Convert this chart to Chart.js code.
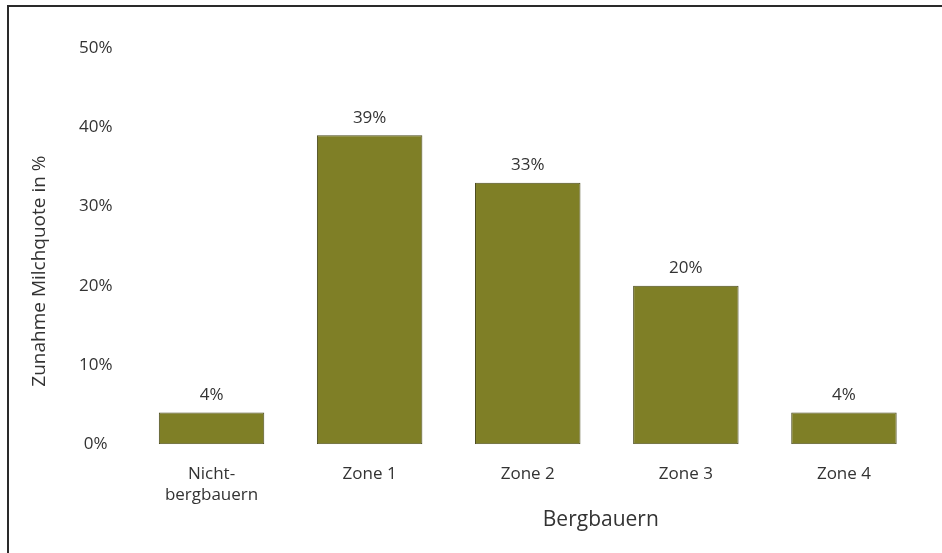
<!DOCTYPE html>
<html>
<head>
<meta charset="utf-8">
<script src="https://cdn.jsdelivr.net/npm/chart.js@4.4.1/dist/chart.umd.min.js"></script>
<style>
  html, body { margin: 0; padding: 0; background: #fff; }
  #frame {
    position: absolute;
    left: 7px;
    top: 5px;
    width: 935px;
    height: 548px;
    border-top: 2px solid #2a2a2a;
    border-left: 2px solid #2a2a2a;
  }
  #wrap { position: absolute; left: 0; top: 0; width: 942px; height: 553px; }
</style>
</head>
<body>
<div id="frame"></div>
<div id="wrap"><canvas id="milchChart"></canvas></div>
<script>
  // categories, values and tick labels
  const categories = [["Nicht-", "bergbauern"], "Zone 1", "Zone 2", "Zone 3", "Zone 4"];
  const increase = [4, 39, 33, 20, 4];
  const yTicks = [0, 10, 20, 30, 40, 50];
  const yTitle = "Zunahme Milchquote in %";
  const groupTitle = "Bergbauern";

  const FONT = "'Open Sans', 'Noto Sans', sans-serif";
  const TEXT = "#333333";

  // value labels above the bars + the two axis titles
  const labelPlugin = {
    id: "labels",
    afterDatasetsDraw(chart) {
      const ctx = chart.ctx;
      const meta = chart.getDatasetMeta(0);
      ctx.save();
      ctx.fillStyle = TEXT;
      ctx.font = "17px " + FONT;
      ctx.textAlign = "center";
      ctx.textBaseline = "bottom";
      meta.data.forEach((bar, i) => {
        ctx.fillText(increase[i] + "%", bar.x, bar.y - 9);
      });

      // y title, rotated
      const y = chart.scales.y;
      ctx.save();
      ctx.translate(40, (y.getPixelForValue(0) + y.getPixelForValue(50)) / 2 + 25);
      ctx.rotate(-Math.PI / 2);
      ctx.textBaseline = "middle";
      ctx.font = "19px " + FONT;
      ctx.fillText(yTitle, 0, 0);
      ctx.restore();

      // group title under the mountain zones
      const x = chart.scales.x;
      const cx = (x.getPixelForValue(1) + x.getPixelForValue(4)) / 2;
      ctx.font = "21px " + FONT;
      ctx.textBaseline = "middle";
      ctx.fillText(groupTitle, cx - 6, 520);
      ctx.restore();
    }
  };

  new Chart(document.getElementById("milchChart"), {
    type: "bar",
    data: {
      labels: categories,
      datasets: [{
        data: increase,
        backgroundColor: "#7f7f26",
        borderColor: "#4a4a1c",
        borderWidth: 1,
        borderSkipped: false,
        categoryPercentage: 1,
        barPercentage: 0.667
      }]
    },
    options: {
      responsive: true,
      maintainAspectRatio: false,
      animation: false,
      layout: { padding: { left: 59, right: 19, top: 48, bottom: 28 } },
      plugins: {
        legend: { display: false },
        tooltip: { enabled: false }
      },
      scales: {
        x: {
          grid: { display: false, drawTicks: false },
          border: { display: false },
          ticks: {
            color: TEXT,
            font: { family: FONT, size: 17 },
            padding: 20,
            maxRotation: 0
          }
        },
        y: {
          min: 0,
          max: 50,
          afterBuildTicks(axis) {
            axis.ticks = yTicks.map(v => ({ value: v }));
          },
          grid: { display: false, drawTicks: false },
          border: { display: false },
          ticks: {
            color: TEXT,
            font: { family: FONT, size: 17 },
            padding: 20,
            crossAlign: "center",
            callback: v => v + "%"
          }
        }
      }
    },
    plugins: [labelPlugin]
  });
</script>
</body>
</html>
